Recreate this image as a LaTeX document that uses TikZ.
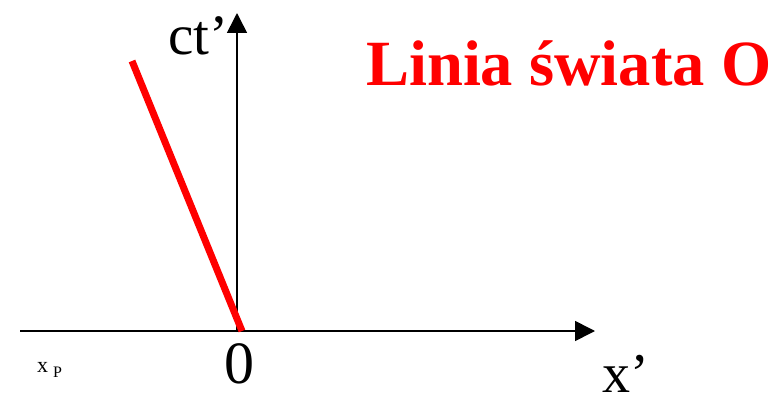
\documentclass[tikz,border=0pt]{standalone}
\usepackage{fontspec}
\setmainfont{Liberation Serif}
\usetikzlibrary{arrows.meta}
\definecolor{wred}{RGB}{255,0,0}
\tikzset{
  axis/.style={line width=1.6pt, -{Triangle[length=20pt,width=20pt]}},
  world/.style={line width=7pt, wred},
  lbl/.style={inner sep=0pt, anchor=base},
}
\begin{document}
\begin{tikzpicture}[x=1pt,y=-1pt]
\useasboundingbox (0,0) rectangle (781,396);
\coordinate (xl) at (20,331);
\coordinate (xr) at (595,331);
\coordinate (o) at (237,332);
\coordinate (ct) at (237,13);
\coordinate (wb) at (242,331);
\coordinate (wt) at (132,61);
\draw[axis] (xl) -- (xr);
\draw[axis] (o) -- (ct);
\draw[world] (wb) -- (wt);
\node[lbl, anchor=base west] (ctl) at (168,55) {\fontsize{57}{62}\selectfont ct’};
\node[lbl] (zero) at (239,383) {\fontsize{60}{66}\selectfont 0};
\node[lbl, anchor=base west] (xp) at (602,392) {\fontsize{56}{60}\selectfont x’};
\node[lbl, anchor=base west] (xP) at (37,372) {\fontsize{22}{24}\selectfont x\hspace{5pt}\raisebox{-5pt}{\fontsize{16}{17}\selectfont P}};
\node[lbl, anchor=base west, text=wred] (title) at (366,85) {\fontsize{64.5}{70}\selectfont\bfseries Linia świata O};
\end{tikzpicture}
\end{document}
